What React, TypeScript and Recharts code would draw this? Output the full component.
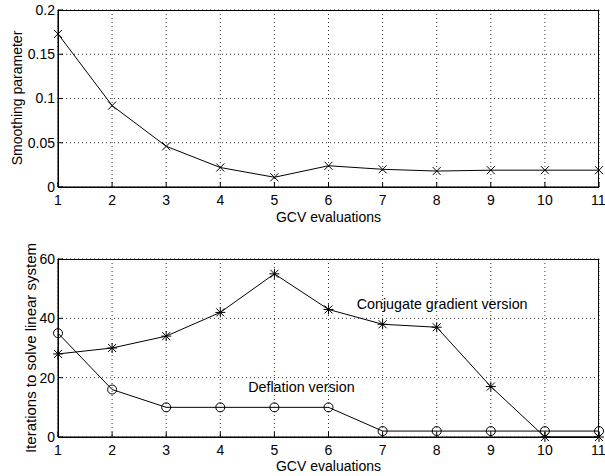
import React from 'react'
import { LineChart, Line, XAxis, YAxis, CartesianGrid, ReferenceDot } from 'recharts'

const EVALS = [1, 2, 3, 4, 5, 6, 7, 8, 9, 10, 11]
const SMOOTHING = [0.173, 0.092, 0.046, 0.022, 0.011, 0.024, 0.02, 0.018, 0.019, 0.019, 0.019]
const CONJUGATE = [28, 30, 34, 42, 55, 43, 38, 37, 17, 0, 0]
const DEFLATION = [35, 16, 10, 10, 10, 10, 2, 2, 2, 2, 2]
const TOP_TICKS = [0, 0.05, 0.1, 0.15, 0.2]
const BOTTOM_TICKS = [0, 20, 40, 60]

const FONT = '"Liberation Sans", Arial, Helvetica, sans-serif'
const tickStyle = { fontSize: 14, fill: '#000', fontFamily: FONT }

const topData = EVALS.map((x, i) => ({ x, s: SMOOTHING[i] }))
const bottomData = EVALS.map((x, i) => ({ x, cg: CONJUGATE[i], df: DEFLATION[i] }))

const Cross = (p: any) => {
  const { cx, cy } = p
  if (cx == null || cy == null) return null
  const d = 4
  return (
    <g stroke="#000" strokeWidth={1}>
      <line x1={cx - d} y1={cy - d} x2={cx + d} y2={cy + d} />
      <line x1={cx - d} y1={cy + d} x2={cx + d} y2={cy - d} />
    </g>
  )
}

const Star = (p: any) => {
  const { cx, cy } = p
  if (cx == null || cy == null) return null
  const d = 4
  return (
    <g stroke="#000" strokeWidth={1}>
      <line x1={cx - d} y1={cy - d} x2={cx + d} y2={cy + d} />
      <line x1={cx - d} y1={cy + d} x2={cx + d} y2={cy - d} />
      <line x1={cx} y1={cy - d - 1} x2={cx} y2={cy + d + 1} />
      <line x1={cx - d - 1} y1={cy} x2={cx + d + 1} y2={cy} />
    </g>
  )
}

const Ring = (p: any) => {
  const { cx, cy } = p
  if (cx == null || cy == null) return null
  return <circle cx={cx} cy={cy} r={4.5} fill="none" stroke="#000" strokeWidth={1} />
}

const yLabel = (text: string, x: number, y: number, size: number) => ({
  content: () => (
    <text
      x={x}
      y={y}
      transform={`rotate(-90 ${x} ${y})`}
      textAnchor="middle"
      dominantBaseline="central"
      fontSize={size}
      fontFamily={FONT}
      fill="#000"
    >
      {text}
    </text>
  ),
})

// box around the plot area (matlab style)
const Frame = ({ top, height }: { top: number; height: number }) => (
  <div
    style={{
      position: 'absolute',
      left: 58,
      top,
      width: 541,
      height,
      border: '1px solid #000',
      boxSizing: 'border-box',
      pointerEvents: 'none',
    }}
  />
)

export default function App() {
  return (
    <div style={{ position: 'absolute', left: 0, top: 0, width: 605, height: 476, background: '#fff', fontFamily: FONT }}>
      <LineChart width={605} height={240} data={topData} margin={{ top: 10, right: 6, left: 0, bottom: 0 }}>
        <CartesianGrid stroke="#333" strokeDasharray="1 3" />
        <XAxis
          type="number"
          dataKey="x"
          domain={[1, 11]}
          ticks={EVALS}
          height={53}
          tickSize={-5}
          tickMargin={13}
          tick={tickStyle}
          stroke="#000"
          label={{ value: 'GCV evaluations', position: 'insideTop', offset: 25, fontSize: 14, fill: '#000', fontFamily: FONT }}
        />
        <YAxis
          type="number"
          domain={[0, 0.2]}
          ticks={TOP_TICKS}
          width={58}
          tickSize={-5}
          tickMargin={8}
          tick={tickStyle}
          stroke="#000"
          label={yLabel('Smoothing parameter', 17, 98, 14)}
        />
        <Line type="linear" dataKey="s" stroke="#000" strokeWidth={1} dot={<Cross />} activeDot={false} isAnimationActive={false} />
      </LineChart>
      <Frame top={10} height={178} />
      <LineChart width={605} height={236} data={bottomData} margin={{ top: 19, right: 6, left: 0, bottom: 0 }}>
        <CartesianGrid stroke="#333" strokeDasharray="1 3" />
        <XAxis
          type="number"
          dataKey="x"
          domain={[1, 11]}
          ticks={EVALS}
          height={39}
          tickSize={-5}
          tickMargin={13}
          tick={tickStyle}
          stroke="#000"
          label={{ value: 'GCV evaluations', position: 'insideTop', offset: 24, fontSize: 14, fill: '#000', fontFamily: FONT }}
        />
        <YAxis
          type="number"
          domain={[0, 60]}
          ticks={BOTTOM_TICKS}
          width={58}
          tickSize={-5}
          tickMargin={8}
          tick={tickStyle}
          stroke="#000"
          label={yLabel('Iterations to solve linear system', 30, 108, 15)}
        />
        <Line type="linear" dataKey="cg" stroke="#000" strokeWidth={1} dot={<Star />} activeDot={false} isAnimationActive={false} />
        <Line type="linear" dataKey="df" stroke="#000" strokeWidth={1} dot={<Ring />} activeDot={false} isAnimationActive={false} />
        <ReferenceDot
          x={8.1}
          y={44.8}
          r={0}
          stroke="none"
          label={{ value: 'Conjugate gradient version', position: 'center', fontSize: 14.3, fill: '#000', fontFamily: FONT }}
        />
        <ReferenceDot
          x={5.5}
          y={16.9}
          r={0}
          stroke="none"
          label={{ value: 'Deflation version', position: 'center', fontSize: 14.3, fill: '#000', fontFamily: FONT }}
        />
      </LineChart>
      <Frame top={259} height={179} />
    </div>
  )
}
